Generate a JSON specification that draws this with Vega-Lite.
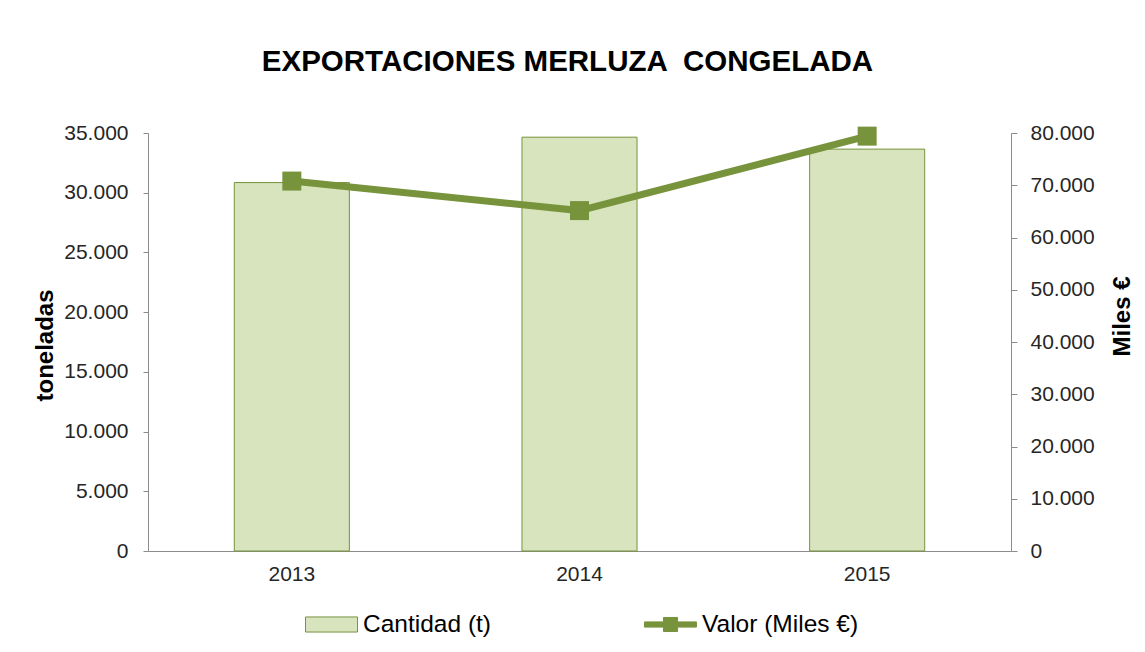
{
  "$schema": "https://vega.github.io/schema/vega-lite/v6.json",
  "width": 863,
  "height": 418,
  "autosize": {"type": "none"},
  "padding": {"left": 148, "top": 133, "right": 134, "bottom": 101},
  "background": "white",
  "config": {
    "locale": {"number": {"decimal": ",", "thousands": ".", "grouping": [3], "currency": ["", " €"]}},
    "view": {"stroke": null},
    "font": "Liberation Sans",
    "axis": {
      "grid": false,
      "domainColor": "#8c8c8c",
      "tickColor": "#8c8c8c",
      "labelFont": "Liberation Sans",
      "labelFontSize": 21,
      "labelColor": "#262626",
      "titleFont": "Liberation Sans",
      "titleFontSize": 24,
      "titleFontWeight": "bold",
      "titleColor": "#000000"
    },
    "legend": {
      "orient": "none",
      "legendX": 157,
      "legendY": 465,
      "direction": "horizontal",
      "symbolSize": 2704,
      "symbolStrokeWidth": 1,
      "symbolOpacity": 1,
      "labelFont": "Liberation Sans",
      "labelFontSize": 24.5,
      "labelColor": "#000000",
      "labelOffset": 5,
      "labelLimit": 400,
      "columnPadding": 150
    }
  },
  "title": {
    "text": "EXPORTACIONES MERLUZA \u00a0CONGELADA",
    "font": "Liberation Sans",
    "fontSize": 29.5,
    "fontWeight": "bold",
    "color": "#000000",
    "anchor": "middle",
    "frame": "group",
    "dx": -12,
    "offset": 45
  },
  "data": {
    "values": [
      {"anio": "2013", "serie": "Cantidad (t)", "valor": 30850},
      {"anio": "2014", "serie": "Cantidad (t)", "valor": 34650},
      {"anio": "2015", "serie": "Cantidad (t)", "valor": 33650},
      {"anio": "2013", "serie": "Valor (Miles €)", "valor": 70800},
      {"anio": "2014", "serie": "Valor (Miles €)", "valor": 65150},
      {"anio": "2015", "serie": "Valor (Miles €)", "valor": 79400}
    ]
  },
  "encoding": {
    "x": {
      "field": "anio",
      "type": "nominal",
      "scale": {"paddingInner": 0.6, "paddingOuter": 0.3},
      "axis": {"title": null, "labelAngle": 0, "ticks": false, "labelPadding": 12}
    }
  },
  "layer": [
    {
      "transform": [{"filter": "datum.serie === 'Cantidad (t)'"}],
      "mark": {"type": "bar", "fill": "#d7e4bd", "stroke": "#77933c", "strokeWidth": 1},
      "encoding": {
        "y": {
          "field": "valor",
          "type": "quantitative",
          "scale": {"domain": [0, 35000], "nice": false},
          "axis": {
            "title": "toneladas",
            "values": [0, 5000, 10000, 15000, 20000, 25000, 30000, 35000],
            "format": ",.0f",
            "tickSize": 5,
            "labelPadding": 15,
            "titleAngle": 270,
            "titleBaseline": "middle",
            "titleX": -103,
            "titleY": 212
          }
        }
      }
    },
    {
      "transform": [{"filter": "datum.serie === 'Valor (Miles €)'"}],
      "encoding": {
        "y": {
          "field": "valor",
          "type": "quantitative",
          "scale": {"domain": [0, 80000], "nice": false},
          "axis": {
            "orient": "right",
            "title": "Miles €",
            "values": [0, 10000, 20000, 30000, 40000, 50000, 60000, 70000, 80000],
            "format": ",.0f",
            "tickSize": 6,
            "labelPadding": 13,
            "titleAngle": 270,
            "titleBaseline": "middle",
            "titleX": 111,
            "titleY": 183
          }
        }
      },
      "layer": [
        {"mark": {"type": "line", "stroke": "#77933c", "strokeWidth": 7}, "encoding": {}},
        {"mark": {"type": "square", "size": 361, "color": "#77933c", "filled": true, "opacity": 1}, "encoding": {}}
      ]
    },
    {
      "mark": {"type": "point", "filled": true, "opacity": 0, "stroke": "#77933c", "strokeWidth": 1},
      "encoding": {
        "y": {"field": "valor", "type": "quantitative", "axis": null},
        "fill": {
          "field": "serie",
          "type": "nominal",
          "title": null,
          "scale": {"domain": ["Cantidad (t)", "Valor (Miles €)"], "range": ["#d7e4bd", "#77933c"]}
        },
        "shape": {
          "field": "serie",
          "type": "nominal",
          "title": null,
          "scale": {
            "domain": ["Cantidad (t)", "Valor (Miles €)"],
            "range": [
              "M-1,-0.29H1V0.29H-1Z",
              "M-1,-0.1H-0.27V-0.27H0.27V-0.1H1V0.1H0.27V0.27H-0.27V0.1H-1Z"
            ]
          }
        }
      }
    }
  ],
  "resolve": {"scale": {"y": "independent"}}
}
